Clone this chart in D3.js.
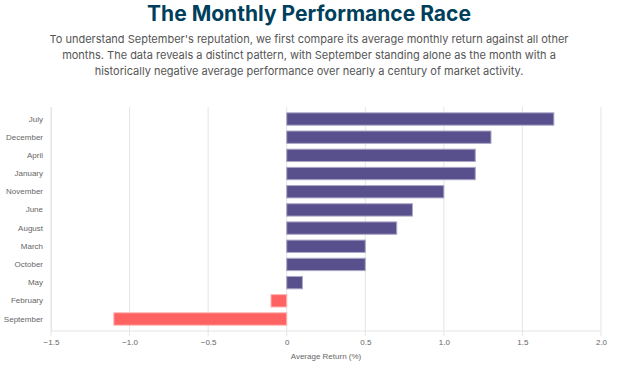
<!DOCTYPE html>
<html>
<head>
<meta charset="utf-8">
<script src="https://cdn.jsdelivr.net/npm/d3@7"></script>
<style>
  body { margin: 0; background: #fff; }
  svg { display: block; }
</style>
</head>
<body>
<svg id="chart" width="617" height="370"></svg>
<script>
// data, sorted as shown in the chart
const months = ["July", "December", "April", "January", "November", "June",
  "August", "March", "October", "May", "February", "September"];
const avgReturn = [1.7, 1.3, 1.2, 1.2, 1.0, 0.8, 0.7, 0.5, 0.5, 0.1, -0.1, -1.1];
const xTicks = [-1.5, -1.0, -0.5, 0, 0.5, 1.0, 1.5, 2.0];

const title = "The Monthly Performance Race";
const subtitle = [
  "To understand September's reputation, we first compare its average monthly return against all other",
  "months. The data reveals a distinct pattern, with September standing alone as the month with a",
  "historically negative average performance over nearly a century of market activity."
];

const svg = d3.select("#chart");
const margin = { top: 107, right: 16, bottom: 39, left: 51 };
const width = 617, height = 370;
const labelFont = "'Liberation Sans', Arial, sans-serif";

svg.append("text")
  .attr("x", 309).attr("y", 21)
  .attr("text-anchor", "middle")
  .style("font-family", "Inter, sans-serif")
  .style("font-weight", 700)
  .style("font-size", "21px")
  .style("fill", "#003f5c")
  .text(title);

svg.append("g").selectAll("text")
  .data(subtitle)
  .join("text")
  .attr("x", 309)
  .attr("y", (d, i) => 42.5 + i * 16.2)
  .attr("text-anchor", "middle")
  .style("font-family", "Inter, sans-serif")
  .style("font-size", "11px")
  .style("fill", "#555")
  .text(d => d);

const x = d3.scaleLinear()
  .domain([-1.5, 2.0])
  .range([margin.left, width - margin.right]);

const y = d3.scaleBand()
  .domain(months)
  .range([margin.top, height - margin.bottom])
  .padding(0.32);

// grid
svg.append("g").selectAll("line")
  .data(xTicks)
  .join("line")
  .attr("x1", d => x(d)).attr("x2", d => x(d))
  .attr("y1", margin.top).attr("y2", height - margin.bottom + 5)
  .attr("stroke", "#e5e5e5")
  .attr("stroke-width", 1);

// bottom axis line
svg.append("line")
  .attr("x1", margin.left).attr("x2", width - margin.right)
  .attr("y1", height - margin.bottom).attr("y2", height - margin.bottom)
  .attr("stroke", "#e5e5e5");

// bars
svg.append("g").selectAll("rect")
  .data(months)
  .join("rect")
  .attr("x", (d, i) => x(Math.min(0, avgReturn[i])))
  .attr("y", d => y(d))
  .attr("width", (d, i) => Math.abs(x(avgReturn[i]) - x(0)))
  .attr("height", y.bandwidth())
  .attr("fill", (d, i) => avgReturn[i] < 0 ? "#ff6361" : "#58508d")
  .attr("stroke", (d, i) => avgReturn[i] < 0 ? "#ffb1b0" : "#aba7c6")
  .attr("stroke-width", 1);

// x axis labels
const xAxis = d3.axisBottom(x)
  .tickValues(xTicks)
  .tickSize(0)
  .tickPadding(8)
  .tickFormat(d => d === 0 ? "0" : d3.format(".1f")(d));

svg.append("g")
  .attr("transform", `translate(0,${height - margin.bottom})`)
  .call(xAxis)
  .call(g => g.select(".domain").remove())
  .call(g => g.selectAll("text")
    .style("font-family", labelFont)
    .style("font-size", "8px")
    .style("fill", "#666"));

// y axis labels
const yAxis = d3.axisLeft(y).tickSize(0).tickPadding(8);
svg.append("g")
  .attr("transform", `translate(${margin.left},0)`)
  .call(yAxis)
  .call(g => g.select(".domain").attr("stroke", "#e5e5e5"))
  .call(g => g.selectAll("text")
    .style("font-family", labelFont)
    .style("font-size", "8px")
    .style("fill", "#666"));

svg.append("text")
  .attr("x", x(0.25)).attr("y", 359)
  .attr("text-anchor", "middle")
  .style("font-family", labelFont)
  .style("font-size", "8px")
  .style("fill", "#666")
  .text("Average Return (%)");
</script>
</body>
</html>
